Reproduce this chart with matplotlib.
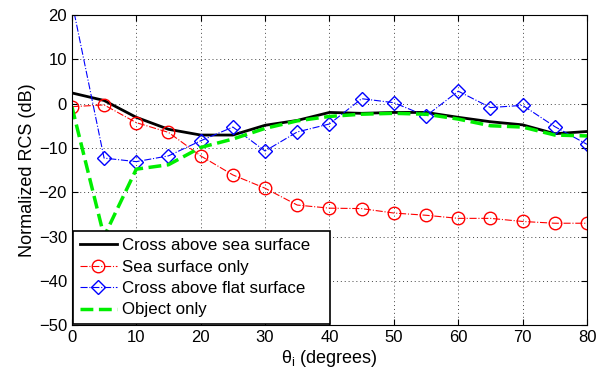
import matplotlib
matplotlib.use("Agg")
import matplotlib.pyplot as plt

plt.rcParams['font.family'] = ['Liberation Sans', 'DejaVu Sans']
plt.rcParams['mathtext.fontset'] = 'custom'
plt.rcParams['mathtext.rm'] = 'Liberation Sans'
plt.rcParams['mathtext.it'] = 'Liberation Sans'

# incidence angle (degrees)
theta = [0, 5, 10, 15, 20, 25, 30, 35, 40, 45, 50, 55, 60, 65, 70, 75, 80]

cross_sea = [2.4, 0.7, -3.1, -5.8, -7.1, -7.1, -4.9, -3.8, -2.0, -2.2, -2.0, -2.0,
             -3.1, -4.1, -4.8, -6.8, -6.3]
sea_only = [-0.7, -0.3, -4.3, -6.5, -11.8, -16.1, -19.1, -22.9, -23.6, -23.7, -24.7,
            -25.2, -25.9, -25.9, -26.6, -27.0, -27.0]
cross_flat = [23.0, -12.3, -13.1, -11.8, -8.4, -5.3, -10.7, -6.4, -4.6, 1.1, 0.2,
              -2.8, 2.8, -0.9, -0.4, -5.2, -9.2]
object_only = [-0.7, -30.0, -14.8, -13.8, -9.9, -8.0, -5.6, -3.9, -2.9, -2.4, -2.2,
               -2.4, -3.5, -5.0, -5.3, -7.1, -7.3]

fig = plt.figure(figsize=(5.99, 3.83), dpi=100)
ax = fig.add_axes([0.120, 0.151, 0.860, 0.810])

ax.plot(theta, cross_sea, color='black', lw=2, label='Cross above sea surface')
ax.plot(theta, sea_only, color='red', lw=0.8, ls='-.', marker='o', ms=9,
        mfc='none', mec='red', label='Sea surface only')
ax.plot(theta, cross_flat, color='blue', lw=0.8, ls='-.', marker='D', ms=7.5,
        mfc='none', mec='blue', label='Cross above flat surface')
ax.plot(theta, object_only, color='#00ee00', lw=2.5, ls='--', label='Object only')

ax.set_xlim(0, 80)
ax.set_ylim(-50, 20)
ax.set_xticks(range(0, 81, 10))
ax.set_yticks(range(-50, 21, 10))
ax.tick_params(direction='in', labelsize=12, length=4, top=True, right=True)
ax.grid(True, ls=(0, (1, 3)), color='#444444', lw=0.7)

ax.set_xlabel(r'$\mathregular{\theta_i}$ (degrees)', fontsize=13, labelpad=2)
ax.set_ylabel('Normalized RCS (dB)', fontsize=13, labelpad=2)

# MATLAB-style legend box: wider than its text, lower left
leg = ax.legend(loc='lower left', bbox_to_anchor=(0.002, 0.003, 0.499, 0.3),
                mode='expand', fontsize=12.2, fancybox=False, framealpha=1,
                edgecolor='black', borderaxespad=0, handlelength=2.2,
                handletextpad=0.3, labelspacing=0.38, borderpad=0.4)
leg.get_frame().set_linewidth(1.2)

fig.savefig('out.png', dpi=100)
